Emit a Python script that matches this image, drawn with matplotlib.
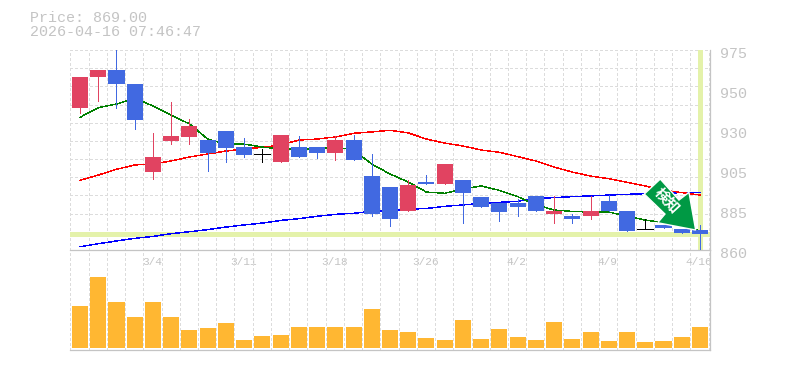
# -*- coding: utf-8 -*-
# Candlestick chart with moving averages and volume
import numpy as np
import matplotlib
matplotlib.use('Agg')
import matplotlib.pyplot as plt
from matplotlib.patches import Polygon
from matplotlib.transforms import IdentityTransform, ScaledTranslation

opens = [941.8, 959.3, 963.5, 955.6, 904.9, 922.7, 925.0, 923.3, 928.4, 919.2, 915.0, 910.6,
         919.2, 919.2, 915.8, 923.3, 902.6, 896.2, 882.4, 899.1, 898.0, 900.3, 890.5, 887.0,
         887.0, 891.0, 880.7, 879.6, 879.6, 888.2, 882.4, 871.9, 874.4, 872.1, 871.5]
highs = [959.5, 963.5, 976.0, 955.6, 927.3, 945.1, 935.3, 923.3, 928.4, 924.4, 918.1, 926.1,
         925.6, 919.2, 925.6, 926.1, 915.2, 896.2, 900.3, 903.1, 909.5, 900.3, 890.5, 887.0,
         889.3, 891.0, 891.0, 880.7, 891.0, 891.6, 882.4, 877.8, 874.4, 872.1, 874.4]
lows = [939.0, 945.7, 941.8, 929.6, 901.0, 921.0, 921.0, 905.4, 910.6, 913.5, 910.6, 910.6,
        913.5, 912.9, 911.8, 911.8, 879.6, 873.8, 882.4, 898.0, 898.0, 875.5, 884.7, 876.7,
        879.6, 882.4, 875.5, 875.5, 877.8, 882.4, 870.9, 871.9, 872.7, 869.8, 859.4]
closes = [959.5, 963.5, 955.6, 934.9, 913.5, 925.6, 931.3, 915.8, 918.7, 914.6, 915.0, 926.1,
          913.5, 915.8, 923.3, 911.8, 880.7, 877.8, 897.4, 898.0, 909.5, 892.8, 884.7, 881.9,
          884.7, 882.4, 882.4, 877.8, 882.4, 882.4, 870.9, 871.9, 872.7, 869.8, 869.0]

ma_green = [936.3, 941.8, 943.9, 947.4, 942.8, 937.6, 932.5, 923.8, 920.9, 920.9, 919.2, 918.1,
            918.1, 918.1, 919.2, 917.5, 909.4, 903.7, 899.1, 893.3, 892.6, 895.1, 896.8, 894.3,
            890.7, 885.9, 883.0, 882.2, 881.8, 881.8, 879.5, 877.2, 875.7, 873.4, 871.1]
ma_red = [900.1, 903.1, 906.4, 908.9, 909.5, 911.2, 913.5, 915.2, 916.9, 918.1, 919.0, 920.4,
          923.2, 923.8, 925.0, 927.1, 927.9, 928.8, 927.3, 923.8, 921.5, 919.8, 917.5, 916.2,
          913.7, 911.2, 907.7, 904.8, 902.5, 901.0, 898.9, 896.8, 894.5, 893.0, 891.6]
ma_blue = [861.9, 863.6, 865.2, 866.7, 867.8, 869.4, 870.5, 871.7, 873.2, 874.4, 875.5, 877.0,
           878.0, 879.4, 880.5, 881.1, 882.2, 882.6, 883.4, 883.9, 885.1, 885.9, 886.8, 887.4,
           888.0, 889.7, 890.1, 890.7, 891.1, 891.6, 892.0, 892.4, 892.6, 893.0, 893.2]

volumes = [42, 71, 46, 31, 46, 31, 18, 20, 25, 8, 12, 13, 21, 21, 21, 21, 39, 18,
           16, 10, 8, 28, 9, 19, 11, 8, 26, 9, 16, 7, 16, 6, 7, 11, 21]

date_idx = [4, 9, 14, 19, 24, 29, 34]
date_labels = ['3/4', '3/11', '3/18', '3/26', '4/2', '4/9', '4/16']
price_ticks = [975, 952, 929, 906, 883, 860]
price_labels = ['975', '950', '930', '905', '885', '860']
last_price = 869.0

GRAY = '#c4c4c4'
GRID = '#dcdcdc'
UP = '#e14361'
DOWN = '#4169e1'
MARK = '#e4f2aa'
THIN = 0.7
plt.rcParams['font.family'] = ['Liberation Mono', 'DejaVu Sans Mono']

W, H = 785, 370
fig = plt.figure(figsize=(W / 100, H / 100), dpi=100)
ax = fig.add_axes([70 / W, 1 - 250 / H, 640 / W, 200 / H])
vol = fig.add_axes([70 / W, 1 - 350 / H, 640 / W, 100 / H])
n = len(closes)
x = np.arange(n)
dash = (0, (3, 2.6))

for a in (ax, vol):
    a.set_xlim(-0.55, n - 0.45)
    a.set_xticks(np.arange(n + 1) - 0.53)
    a.tick_params(length=0, labelbottom=False, labelleft=False)
    a.grid(True, axis='x', color=GRID, lw=THIN, linestyle=dash, antialiased=False)
    a.set_axisbelow(True)
    for s in ['left', 'top']:
        a.spines[s].set_visible(False)
    for s in ['right', 'bottom']:
        a.spines[s].set_color(GRAY)
        a.spines[s].set_linewidth(0.9)
vol.patch.set_visible(False)

ax.set_ylim(860, 975)
ax.set_yticks(np.linspace(860, 975, 12))
ax.tick_params(labelright=False)
ax.grid(True, axis='y', color=GRID, lw=THIN, linestyle=dash, antialiased=False)

ax.axhline(last_price, color=MARK, lw=2.25, zorder=1.5, antialiased=False)
ax.axvline(x[-1], color=MARK, lw=2.25, zorder=1.5, antialiased=False)

ax.plot(x, ma_blue, color='#0000ff', lw=0.3, zorder=2, antialiased=False)
ax.plot(x, ma_red, color='#ff0000', lw=0.3, zorder=2, antialiased=False)
ax.plot(x, ma_green, color='#008000', lw=0.3, zorder=2, antialiased=False)

for i in range(n):
    o, h, l, c = opens[i], highs[i], lows[i], closes[i]
    if c == o:
        col = 'black'
        ax.hlines(c, i - 0.44, i + 0.44, color=col, lw=THIN, zorder=3, antialiased=False)
    else:
        col = UP if c > o else DOWN
        ax.bar(i, abs(c - o), bottom=min(o, c), width=0.88, color=col, zorder=3, antialiased=False)
    ax.vlines(i, l, h, color=col, lw=THIN, zorder=3, antialiased=False)

vol.bar(x, volumes, width=0.88, color='#ffb732', zorder=3, antialiased=False)
vol.set_ylim(-2, 98)
vol.set_yticks([])

for i, lab in zip(date_idx, date_labels):
    ax.annotate(lab, (i, 0), xycoords=('data', 'axes fraction'), xytext=(-1, -12),
                textcoords='offset pixels', ha='center', va='center',
                color=GRAY, fontsize=8, zorder=5, annotation_clip=False)
for p, lab in zip(price_ticks, price_labels):
    ax.annotate(lab, (1, p), xycoords=('axes fraction', 'data'), xytext=(10, -3.5),
                textcoords='offset pixels', ha='left', va='center',
                color=GRAY, fontsize=10.8, annotation_clip=False)

fig.text(30 / W, 1 - 18 / H, 'Price: %.2f' % last_price, color=GRAY, fontsize=10.8, va='center')
fig.text(30 / W, 1 - 32.5 / H, '2026-04-16 07:46:47', color=GRAY, fontsize=10.8, va='center')

# marker arrow, placed relative to the last candle (offsets in pixels)
fig.canvas.draw()
anchor = IdentityTransform() + ScaledTranslation(x[-1], last_price, ax.transData)
arrow = [(-39.7, 55.3), (-21, 34.3), (-11, 42), (-4.3, 4.3), (-42.3, 11.6), (-35, 20.3), (-55.7, 40.3)]
ax.add_patch(Polygon(arrow, closed=True, facecolor='#009944', edgecolor='white', lw=1.0,
                     transform=anchor, zorder=6, clip_on=False))
ax.text(-33, 34, '検知', transform=anchor, rotation=-47, rotation_mode='anchor', ha='center', va='center',
        color='white', fontsize=10.5, fontweight='bold', zorder=7, clip_on=False,
        family=['Noto Sans CJK JP', 'DejaVu Sans'])

fig.savefig('out.png', dpi=100)
